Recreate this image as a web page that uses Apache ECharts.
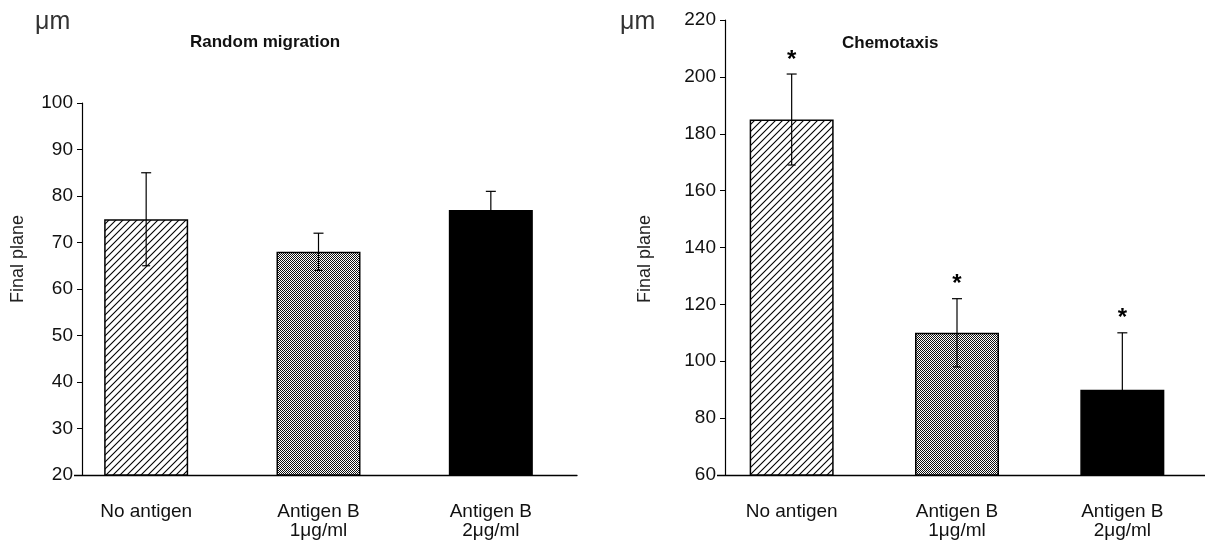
<!DOCTYPE html>
<html>
<head>
<meta charset="utf-8">
<script src="https://cdn.jsdelivr.net/npm/echarts@6/dist/echarts.min.js"></script>
<style>
html,body{margin:0;padding:0;background:#fff;}
#chart{width:1205px;height:540px;}
</style>
</head>
<body>
<div id="chart"></div>
<script>
// ---- data ----
const categories = ['No antigen', 'Antigen B\n1μg/ml', 'Antigen B\n2μg/ml'];
const randomMean = [75, 68, 77];
const randomErr = [10, 4, 4];
const chemoMean = [185, 110, 90];
const chemoErr = [16, 12, 20];
const chemoStar = ['*', '*', '*'];
const randomTicks = { min: 20, max: 100, interval: 10 };
const chemoTicks = { min: 60, max: 220, interval: 20 };

// ---- patterns ----
function hatchPattern() {
  const s = 7;
  const c = document.createElement('canvas');
  c.width = s; c.height = s;
  const g = c.getContext('2d');
  g.fillStyle = '#fff'; g.fillRect(0, 0, s, s);
  g.strokeStyle = '#000'; g.lineWidth = 1.1;
  g.beginPath();
  g.moveTo(0, s); g.lineTo(s, 0);
  g.moveTo(-1, 1); g.lineTo(1, -1);
  g.moveTo(s - 1, s + 1); g.lineTo(s + 1, s - 1);
  g.stroke();
  return { image: c, repeat: 'repeat' };
}
function stipplePattern() {
  const c = document.createElement('canvas');
  c.width = 2; c.height = 2;
  const g = c.getContext('2d');
  g.fillStyle = '#fff'; g.fillRect(0, 0, 2, 2);
  g.fillStyle = '#111';
  g.fillRect(0, 0, 1, 1); g.fillRect(1, 1, 1, 1);
  return { image: c, repeat: 'repeat' };
}
const fills = [hatchPattern(), stipplePattern(), '#000'];

const FONT = '"Liberation Sans", Arial, Helvetica, sans-serif';

function barData(means) {
  return means.map((v, i) => ({ value: v, itemStyle: { color: fills[i] } }));
}
function errData(means, errs) {
  return means.map((v, i) => [i, v, errs[i]]);
}
function errRender(stars) {
  return function (params, api) {
    const i = api.value(0), m = api.value(1), e = api.value(2);
    const hi = api.coord([i, m + e]);
    const lo = api.coord([i, m - e]);
    const cap = 5;
    const style = { stroke: '#000', lineWidth: 1.2, fill: null };
    const children = [
      { type: 'line', shape: { x1: hi[0], y1: hi[1], x2: lo[0], y2: lo[1] }, style },
      { type: 'line', shape: { x1: hi[0] - cap, y1: hi[1], x2: hi[0] + cap, y2: hi[1] }, style },
      { type: 'line', shape: { x1: lo[0] - cap + 1, y1: lo[1], x2: lo[0] + cap - 1, y2: lo[1] }, style }
    ];
    if (stars) {
      children.push({
        type: 'text', x: hi[0], y: hi[1] - 14,
        style: { text: stars[params.dataIndex], font: 'bold 24px ' + FONT, fill: '#000', align: 'center', verticalAlign: 'middle' }
      });
    }
    return { type: 'group', children };
  };
}

const xAxisCommon = {
  type: 'category',
  data: categories,
  z: 1,
  axisLine: { lineStyle: { color: '#000', width: 1.3 } },
  axisTick: { length: 6, lineStyle: { color: '#000', width: 1 } },
  axisLabel: { color: '#111', fontFamily: FONT, fontSize: 19, lineHeight: 19, margin: 27 }
};
const yAxisCommon = {
  type: 'value',
  z: 3,
  splitLine: { show: false },
  axisLine: { show: true, lineStyle: { color: '#000', width: 1.2 } },
  axisTick: { show: true, length: 5, lineStyle: { color: '#000' } },
  axisLabel: { color: '#111', fontFamily: FONT, fontSize: 19, margin: 8, backgroundColor: '#fff', padding: [1, 1, 1, 4] }
};

const chart = echarts.init(document.getElementById('chart'));
chart.setOption({
  backgroundColor: '#fff',
  animation: false,
  title: [
    { text: 'Random migration', left: 190, top: 34, padding: 0, textStyle: { fontFamily: FONT, fontSize: 17, fontWeight: 'bold', color: '#111' } },
    { text: 'Chemotaxis', left: 842, top: 35, padding: 0, textStyle: { fontFamily: FONT, fontSize: 17, fontWeight: 'bold', color: '#111' } }
  ],
  graphic: [
    { type: 'text', x: 35, y: 22, style: { text: 'μm', font: '25px ' + FONT, fill: '#333', textVerticalAlign: 'middle' } },
    { type: 'text', x: 620, y: 22, style: { text: 'μm', font: '25px ' + FONT, fill: '#333', textVerticalAlign: 'middle' } },
    { type: 'text', x: 18, y: 259, rotation: Math.PI / 2, style: { text: 'Final plane', font: '18px ' + FONT, fill: '#222', textAlign: 'center', textVerticalAlign: 'middle' } },
    { type: 'text', x: 645, y: 259, rotation: Math.PI / 2, style: { text: 'Final plane', font: '18px ' + FONT, fill: '#222', textAlign: 'center', textVerticalAlign: 'middle' } }
  ],
  grid: [
    { left: 60, top: 103, width: 517, height: 372 },
    { left: 709, top: 20, width: 510, height: 455 }
  ],
  xAxis: [
    Object.assign({ gridIndex: 0 }, xAxisCommon),
    Object.assign({ gridIndex: 1 }, xAxisCommon)
  ],
  yAxis: [
    Object.assign({ gridIndex: 0, offset: -22 }, yAxisCommon, randomTicks),
    Object.assign({ gridIndex: 1, offset: -16 }, yAxisCommon, chemoTicks)
  ],
  series: [
    { type: 'bar', xAxisIndex: 0, yAxisIndex: 0, barWidth: 84, data: barData(randomMean),
      itemStyle: { borderColor: '#000', borderWidth: 1.5 } },
    { type: 'custom', xAxisIndex: 0, yAxisIndex: 0, renderItem: errRender(null), data: errData(randomMean, randomErr), z: 5 },
    { type: 'bar', xAxisIndex: 1, yAxisIndex: 1, barWidth: 84, data: barData(chemoMean),
      itemStyle: { borderColor: '#000', borderWidth: 1.5 } },
    { type: 'custom', xAxisIndex: 1, yAxisIndex: 1, renderItem: errRender(chemoStar), data: errData(chemoMean, chemoErr), z: 5 }
  ]
});
</script>
</body>
</html>
